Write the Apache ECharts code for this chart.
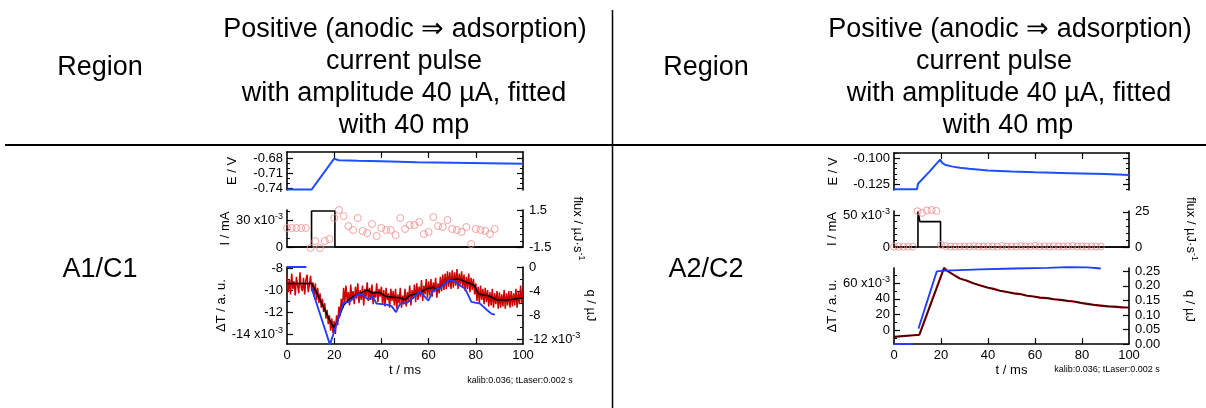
<!DOCTYPE html>
<html><head><meta charset="utf-8">
<script src="https://cdn.jsdelivr.net/npm/echarts@6/dist/echarts.min.js"></script>
<style>html,body{margin:0;padding:0;background:#fff}#c{width:1206px;height:408px}</style>
</head><body><div id="c"></div>
<script>
// ================= DATA =================
const xTickLabels = [0, 20, 40, 60, 80, 100];
const xTickInner = [20, 40, 60, 80];

// ---- Panel A1/C1 ----
const A_E_t = [0, 10.4, 19.9, 22, 30, 40, 55, 70, 85, 100];
const A_E_v = [-0.7425, -0.7425, -0.681, -0.684, -0.685, -0.686, -0.688, -0.689, -0.690, -0.691];
const A_I_t = [0, 10.4, 10.4, 20.3, 20.3, 100];
const A_I_v = [0, 0, 0.040, 0.040, 0, 0];
const fluxT = [0,2,4,6,8,10,12,14,16,18,20,22,24,26,28,30,32,34,36,38,40,42,44,46,48,50,52,54,56,58,60,62,64,66,68,70,72,74,76,78,80,82,84,86,88];
const A_flux = [0.04,0.04,0.04,0.04,0.04,-1.58,-1.01,-1.58,-1.01,-0.85,0.85,1.5,1.01,0.20,-0.12,0.85,-0.20,-0.37,0.36,-0.61,0.04,-0.12,-0.12,-0.53,0.85,-0.04,0.28,0.28,0.53,-0.45,-0.28,0.93,0.20,0.12,0.69,-0.04,-0.12,-0.28,0.12,-1.26,-0.04,-0.12,-0.20,-0.45,-0.04];
// measured ΔT (x10^-3), one sample every 0.5 ms from 0 to 100 ms
const A_rawStep = 0.5;
const A_dTraw = [
 -8.6,-10.2,-9.0,-10.4,-8.5,-9.9,-9.2,-10.5,-8.8,-9.6,
 -10.3,-8.4,-9.7,-10.1,-8.9,-10.4,-9.1,-8.6,-10.2,-9.5,
 -8.7,-10.1,-9.3,-10.6,-9.4,-10.9,-9.8,-11.2,-10.3,-11.6,
 -10.8,-12.0,-11.2,-12.6,-11.8,-13.1,-12.3,-13.7,-12.6,-13.9,
 -12.8,-14.0,-12.3,-13.2,-11.5,-12.4,-10.8,-11.7,-9.8,-11.1,
 -9.6,-11.0,-10.2,-11.4,-9.5,-10.9,-10.1,-11.3,-9.7,-10.8,
 -9.4,-11.2,-10.0,-10.9,-9.6,-11.4,-9.9,-10.6,-9.3,-11.0,
 -9.8,-10.9,-9.5,-11.3,-10.1,-10.7,-9.4,-11.1,-9.9,-10.6,
 -9.7,-11.3,-10.0,-11.5,-9.8,-10.9,-10.3,-11.6,-9.9,-11.0,
 -10.1,-11.4,-9.9,-11.7,-10.4,-11.2,-9.8,-11.6,-10.5,-11.3,
 -9.9,-11.5,-10.2,-11.0,-9.6,-11.4,-10.0,-10.8,-9.5,-11.1,
 -9.4,-10.9,-9.7,-10.6,-9.1,-11.0,-9.6,-10.4,-9.0,-10.7,
 -9.2,-10.5,-9.0,-10.6,-9.3,-10.2,-8.9,-10.7,-9.4,-10.3,
 -8.8,-10.1,-8.6,-10.0,-8.5,-9.9,-8.3,-9.7,-8.4,-9.9,
 -8.2,-9.8,-8.4,-9.6,-8.1,-9.9,-8.5,-9.5,-8.3,-9.8,
 -8.6,-10.1,-8.8,-9.9,-8.5,-10.2,-8.9,-10.0,-9.0,-10.4,
 -9.4,-11.0,-9.7,-11.2,-9.6,-10.9,-9.9,-11.3,-9.8,-11.1,
 -10.0,-11.5,-10.2,-11.4,-9.9,-11.6,-10.3,-11.3,-10.1,-11.7,
 -10.2,-11.6,-10.4,-11.5,-10.0,-11.7,-10.3,-11.4,-10.1,-11.6,
 -10.1,-11.5,-10.3,-11.4,-9.9,-11.6,-10.2,-11.3,-9.6,-11.2,
 -10.0];
const A_dTfit_t = [0,10.4,12,14,16,18,19.8,21,22.5,24,26,28,30,32,34,36.5,39,42,45,48,50,52,54,56.5,59,62,63.5,66,68,70,72,74,76,78,79.5,81,83,85,89,93,96,100];
const A_dTfit_v = [-9.4,-9.4,-10.0,-10.9,-11.8,-12.7,-13.4,-13.0,-12.2,-11.4,-10.9,-10.6,-10.4,-10.2,-10.0,-10.3,-10.2,-10.6,-10.65,-10.7,-10.9,-10.5,-10.4,-10.2,-9.9,-9.75,-10.0,-9.6,-9.2,-9.1,-9.0,-9.1,-9.3,-9.45,-9.6,-10.35,-10.45,-10.5,-10.9,-10.9,-10.85,-10.7];
const A_q_t = [0,8.2,9,10.4,18.2,23.9,26.7,30.2,32,34.4,36.3,38,42.2,44.3,46.2,47.9,50.7,53.5,56.4,59.9,62,64.8,68.4,70.5,73.8,75.5,78.1,81.8,84.6,86.7,88.1];
const A_q_v = [0,0,null,-3.5,-12.9,-6.0,-5.7,-4.5,-4.6,-5.4,-4.9,-6.1,-6.25,-6.5,-7.5,-6.1,-6.0,-5.1,-4.1,-5.6,-3.9,-3.5,-2.25,-2.25,-3.2,-3.6,-5.8,-6.1,-7.1,-7.8,-7.9];

// ---- Panel A2/C2 ----
const B_E_t = [0, 9.8, 10.2, 15, 19.6, 20.5, 22, 25, 28, 32, 40, 50, 60, 75, 90, 100];
const B_E_v = [-0.1298,-0.1298,-0.1245,-0.1130,-0.1012,-0.1045,-0.1065,-0.108,-0.109,-0.110,-0.1118,-0.1128,-0.1135,-0.1143,-0.1152,-0.116];
const B_I_t = [0, 10.2, 10.2, 11.0, 19.8, 19.8, 100];
const B_I_v = [0, 0, 0.056, 0.040, 0.040, 0, 0];
const B_flux = [0.2,0.2,0.2,0.2,0.2,25.4,24.2,25.9,26.3,25.6,1.5,0.6,0.3,0.2,0.3,0.4,0.3,0.6,0.3,0.2,0.5,0.3,0.2,0.7,0.3,0.4,0.2,0.6,0.3,0.4,0.8,0.3,0.5,0.2,0.6,0.4,0.3,0.5,0.7,0.3,0.4,0.2,0.3,0.2,0.3];
const B_dT_t = [0,10.8,21.3,22.5,25.4,28,31.1,34,36.8,40,42.4,45,48.2,51,53.8,56.5,59.5,62,65.3,68,70.9,73.8,76.6,79.5,82.3,85,88,91,93.7,97,100];
const B_dTfit = [-8.6,-6.4,79.3,76.8,70.7,66.5,63.0,60.0,57.0,54.6,52.7,50.7,48.5,47.2,45.9,44.3,42.8,41.9,40.7,39.7,38.6,37.6,36.4,35.0,33.4,32.4,31.2,30.5,29.9,29.3,28.7];
const B_dTraw = [-8.9,-6.1,79.8,76.4,70.9,66.2,63.3,59.7,57.2,54.3,52.9,50.5,48.8,47.0,46.2,44.0,43.1,41.6,40.9,39.5,38.8,37.4,36.6,34.8,33.6,32.2,31.4,30.3,30.1,29.1,28.9];
const B_q_t = [0,8.3,9,10.4,18.2,21.8,36.8,51,65.3,73.8,82.3,88];
const B_q_v = [0,0,null,0.053,0.250,0.253,0.257,0.260,0.262,0.265,0.264,0.260];

// ---- axis ticks / labels ----
const A_E_maj=[-0.74,-0.71,-0.68], A_E_lab=['-0.74','-0.71','-0.68'], A_E_min=[-0.73,-0.72,-0.70,-0.69];
const A_I_maj=[0,0.03], A_I_lab=['0','30 x10^-3'], A_I_min=[0.01,0.02,0.04];
const A_F_maj=[-1.5,1.5], A_F_lab=['-1.5','1.5'], A_F_min=[-1,-0.5,0,0.5,1];
const A_T_maj=[-14,-12,-10,-8], A_T_lab=['-14 x10^-3','-12','-10','-8'], A_T_min=[-13,-11,-9];
const A_Q_maj=[-12,-8,-4,0], A_Q_lab=['-12 x10^-3','-8','-4','0'], A_Q_min=[-10,-6,-2];
const B_E_maj=[-0.125,-0.100], B_E_lab=['-0.125','-0.100'], B_E_min=[-0.130,-0.120,-0.115,-0.110,-0.105,-0.095];
const B_I_maj=[0,0.05], B_I_lab=['0','50 x10^-3'], B_I_min=[0.01,0.02,0.03,0.04];
const B_F_maj=[0,25], B_F_lab=['0','25'], B_F_min=[5,10,15,20];
const B_T_maj=[0,20,40,60], B_T_lab=['0','20','40','60 x10^-3'], B_T_min=[-10,10,30,50,70];
const B_Q_maj=[0,0.05,0.10,0.15,0.20,0.25], B_Q_lab=['0.00','0.05','0.10','0.15','0.20','0.25'];

// ================= BUILD =================
const FF = "'Liberation Sans', Arial, sans-serif";
const FS = 13;
const rich = {n:{fontSize:FS,fontFamily:FF,color:'#000'}, s:{fontSize:9,fontFamily:FF,color:'#000',padding:[0,0,7,0]}};
function fmt(str){ const i=str.indexOf('^'); return i<0 ? str : '{n|'+str.slice(0,i)+'}{s|'+str.slice(i+1)+'}'; }
const AXL = {show:true,onZero:false,lineStyle:{color:'#000',width:1.6}};
const xAxes=[], yAxes=[];
function xAxis(grid, kind){
  const a={type:'value',gridIndex:grid,min:0,max:100,splitLine:{show:false},axisLine:AXL,
    axisTick:{show:false},axisLabel:{show:false},position:kind==='top'?'top':'bottom'};
  if(kind==='top'||kind==='labels') a.axisTick={show:true,inside:true,length:6,customValues:xTickInner,lineStyle:{color:'#000',width:1.2}};
  if(kind==='labels'){
    a.axisLabel={show:true,customValues:xTickLabels,margin:5,fontSize:FS,fontFamily:FF,color:'#000'};
    a.name='t / ms'; a.nameLocation='middle'; a.nameGap=20; a.nameTextStyle={fontSize:FS,fontFamily:FF,color:'#000'};
  }
  xAxes.push(a); return xAxes.length-1;
}
function yAxis(grid,pos,min,max,maj,lab,mins,name,gap){
  const a={type:'value',gridIndex:grid,position:pos,min,max,splitLine:{show:false},axisLine:AXL,
    axisTick:{show:true,inside:true,length:6,customValues:maj,lineStyle:{color:'#000',width:1.2}},
    axisLabel:{show:!!lab,customValues:maj,margin:pos==='left'?4:6,fontSize:FS,fontFamily:FF,color:'#000',rich,
      formatter:v=>{const i=maj.findIndex(m=>Math.abs(m-v)<1e-9);return i<0||!lab?'':fmt(lab[i]);}}};
  if(name){a.name=name;a.nameLocation='middle';a.nameGap=gap;a.nameRotate=pos==='left'?90:-90;
    a.nameTextStyle={fontSize:FS,fontFamily:FF,color:'#000',rich};}
  yAxes.push(a); const idx=yAxes.length-1;
  if(mins&&mins.length) yAxes.push({type:'value',gridIndex:grid,position:pos,min,max,splitLine:{show:false},
    axisLine:{show:false,onZero:false},axisLabel:{show:false},
    axisTick:{show:true,inside:true,length:3,customValues:mins,lineStyle:{color:'#000',width:1}}});
  return idx;
}
function pairs(xs,ys){return xs.map((x,i)=>[x, ys[i]===null?'-':ys[i]]);}
function line(xi,yi,xs,ys,color,width,z){return {type:'line',xAxisIndex:xi,yAxisIndex:yi,data:pairs(xs,ys),
  symbol:'none',showSymbol:false,clip:false,connectNulls:false,lineStyle:{color,width},z,animation:false};}
function scat(xi,yi,xs,ys){return {type:'scatter',xAxisIndex:xi,yAxisIndex:yi,data:pairs(xs,ys),symbol:'circle',symbolSize:7,
  clip:false,itemStyle:{color:'rgba(0,0,0,0)',borderColor:'#f28b8b',borderWidth:1},z:3,animation:false};}

const grids=[
 {left:287,top:152,width:236,height:38},
 {left:287,top:210,width:236,height:37},
 {left:287,top:267,width:236,height:77},
 {left:894,top:153,width:235,height:37},
 {left:894,top:211,width:235,height:36},
 {left:894,top:268,width:235,height:76}
];
const series=[];
// Panel A
let x0=xAxis(0,'top'), x1=xAxis(1,'plain'), x2=xAxis(2,'labels');
let yAE=yAxis(0,'left',-0.7434,-0.6674,A_E_maj,A_E_lab,A_E_min,'E / V',48);
yAxis(0,'right',-0.7434,-0.6674,A_E_maj,null,A_E_min);
let yAI=yAxis(1,'left',0,0.0411,A_I_maj,A_I_lab,A_I_min,'I / mA',48);
let yAF=yAxis(1,'right',-1.5,1.5,A_F_maj,A_F_lab,A_F_min,'{n|flux / µJ·s}{s|-1}',47);
let yAT=yAxis(2,'left',-14.91,-7.91,A_T_maj,A_T_lab,A_T_min,'ΔT / a. u.',48);
let yAQ=yAxis(2,'right',-12.8,0,A_Q_maj,A_Q_lab,A_Q_min,'q / µJ',47);
series.push(line(x0,yAE,A_E_t,A_E_v,'#1e50ff',2,2));
series.push(line(x1,yAI,A_I_t,A_I_v,'#000',1.6,2));
series.push(scat(x1,yAF,fluxT,A_flux));
series.push(line(x2,yAT,A_dTraw.map((v,i)=>i*A_rawStep),A_dTraw,'#cc0000',1.5,1));
series.push(line(x2,yAT,A_dTfit_t,A_dTfit_v,'#000',1.5,2));
series.push(line(x2,yAQ,A_q_t,A_q_v,'#1f3cff',1.8,3));
// Panel B
let x3=xAxis(3,'top'), x4=xAxis(4,'plain'), x5=xAxis(5,'labels');
let yBE=yAxis(3,'left',-0.1305,-0.0949,B_E_maj,B_E_lab,B_E_min,'E / V',54);
yAxis(3,'right',-0.1305,-0.0949,B_E_maj,null,B_E_min);
let yBI=yAxis(4,'left',0,0.0567,B_I_maj,B_I_lab,B_I_min,'I / mA',54);
let yBF=yAxis(4,'right',0,25.55,B_F_maj,B_F_lab,B_F_min,'{n|flux / µJ·s}{s|-1}',54);
let yBT=yAxis(5,'left',-18,79.7,B_T_maj,B_T_lab,B_T_min,'ΔT / a. u.',54);
let yBQ=yAxis(5,'right',0,0.2617,B_Q_maj,B_Q_lab,null,'q / µJ',54);
series.push(line(x3,yBE,B_E_t,B_E_v,'#1e50ff',2,2));
series.push(line(x4,yBI,B_I_t,B_I_v,'#000',1.6,2));
series.push(scat(x4,yBF,fluxT,B_flux));
series.push(line(x5,yBT,B_dT_t,B_dTraw,'#990000',2.2,1));
series.push(line(x5,yBT,B_dT_t,B_dTfit,'#2a0000',1,2));
series.push(line(x5,yBQ,B_q_t,B_q_v,'#1f3cff',1.8,3));

// ---- table text & rules ----
const HF = 27;
function txt(x,y,s,size){return {type:'text',x,y,silent:true,style:{text:s,fontSize:size||HF,fontFamily:FF,fill:'#000',align:'center',verticalAlign:'middle'}};}
const headLines=['Positive (anodic \u21D2 adsorption)','current pulse','with amplitude 40 µA, fitted','with 40 mp'];
const headY=[30,61.5,93.5,125.5];
const graphic=[
 {type:'line',silent:true,shape:{x1:5,y1:145,x2:1206,y2:145},style:{stroke:'#000',lineWidth:2}},
 {type:'line',silent:true,shape:{x1:612.5,y1:10,x2:612.5,y2:408},style:{stroke:'#000',lineWidth:1.5}},
 txt(100,68,'Region'), txt(706,68,'Region'),
 txt(100,270,'A1/C1'), txt(706,270,'A2/C2'),
 txt(520,381,'kalib:0.036; tLaser:0.002 s',9), txt(1107,370,'kalib:0.036; tLaser:0.002 s',9)
];
const headXL=[405,404,404,404], headXR=[1010,994,1009,1008];
headLines.forEach((s,i)=>{graphic.push(txt(headXL[i],headY[i],s)); graphic.push(txt(headXR[i],headY[i],s));});

const chart=echarts.init(document.getElementById('c'));
chart.setOption({animation:false,backgroundColor:'#fff',textStyle:{fontFamily:FF},
  grid:grids,xAxis:xAxes,yAxis:yAxes,series,graphic});
</script></body></html>
